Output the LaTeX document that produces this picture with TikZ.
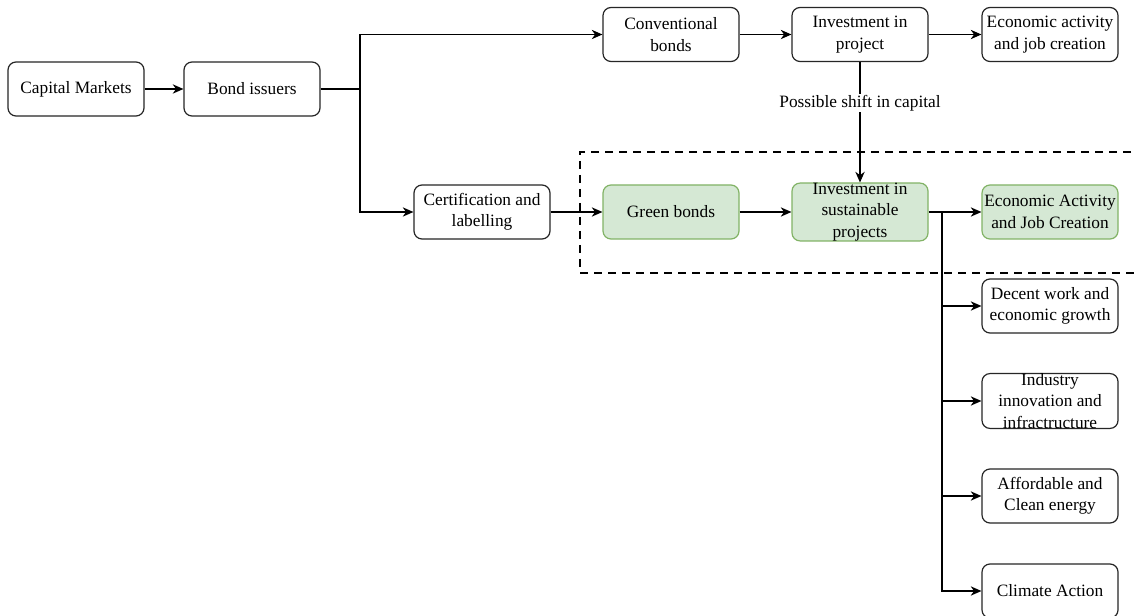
\documentclass[tikz,border=0pt]{standalone}
\usepackage{fontspec}
\setmainfont{Liberation Serif}
\usetikzlibrary{arrows.meta}
\begin{document}
\begin{tikzpicture}[x=0.75pt,y=-0.75pt,
  box/.style={draw=black!85, line width=0.9pt, rounded corners=6pt, fill=white,
    minimum width=102pt, minimum height=40.5pt, inner sep=0pt, align=center,
    font=\fontsize{13}{16}\selectfont},
  greenbox/.style={box, draw={rgb,255:red,130;green,179;blue,102}, fill={rgb,255:red,213;green,232;blue,212}},
  conn/.style={line width=0.9pt, draw=black},
  arr/.style={conn, -{Stealth[length=8pt,width=7pt,inset=2.5pt]}},
  lab/.style={fill=white, inner sep=1pt, font=\fontsize{13}{16}\selectfont}
]
\useasboundingbox[fill=white] (0,0) rectangle (1137,616);
% dashed frame
\draw[line width=1.5pt, dash pattern=on 6pt off 4.5pt] (1145,152) -- (580,152) -- (580,273) -- (1145,273);

\node[box] (cap) at (76,89) {Capital Markets};
\node[box] (bond) at (252,89) {Bond issuers};
\node[box] (conv) at (671,34.5) {Conventional\\bonds};
\node[box] (proj) at (860,34.5) {Investment in\\project};
\node[box] (eco1) at (1050,34.5) {Economic activity\\and job creation};
\node[box] (cert) at (482,212) {Certification and\\labelling};
\node[greenbox] (green) at (671,212) {Green bonds};
\node[greenbox] (sust) at (860,212) {Investment in\\sustainable\\projects};
\node[greenbox] (eco2) at (1050,212) {Economic Activity\\and Job Creation};
\node[box] (decent) at (1050,306) {Decent work and\\economic growth};
\node[box] (indus) at (1050,401) {Industry\\innovation and\\infractructure};
\node[box] (afford) at (1050,496) {Affordable and\\Clean energy};
\node[box] (climate) at (1050,591) {Climate Action};

\coordinate (b1) at (360,89);
\coordinate (j) at (942,212);

\draw[arr] (cap) -- (bond);
\draw[conn] (bond.east) -- (b1);
\draw[arr] (b1) |- (conv.west);
\draw[arr] (b1) |- (cert.west);
\draw[arr] (conv) -- (proj);
\draw[arr] (proj) -- (eco1);
\draw[arr] (proj.south) -- node[lab, pos=0.34] (shift) {Possible shift in capital} (sust.north);
\draw[arr] (cert) -- (green);
\draw[arr] (green) -- (sust);
\draw[conn] (sust.east) -- (j);
\draw[arr] (j) -- (eco2.west);
\draw[arr] (j) |- (decent.west);
\draw[arr] (j) |- (indus.west);
\draw[arr] (j) |- (afford.west);
\draw[arr] (j) |- (climate.west);
\end{tikzpicture}
\end{document}
